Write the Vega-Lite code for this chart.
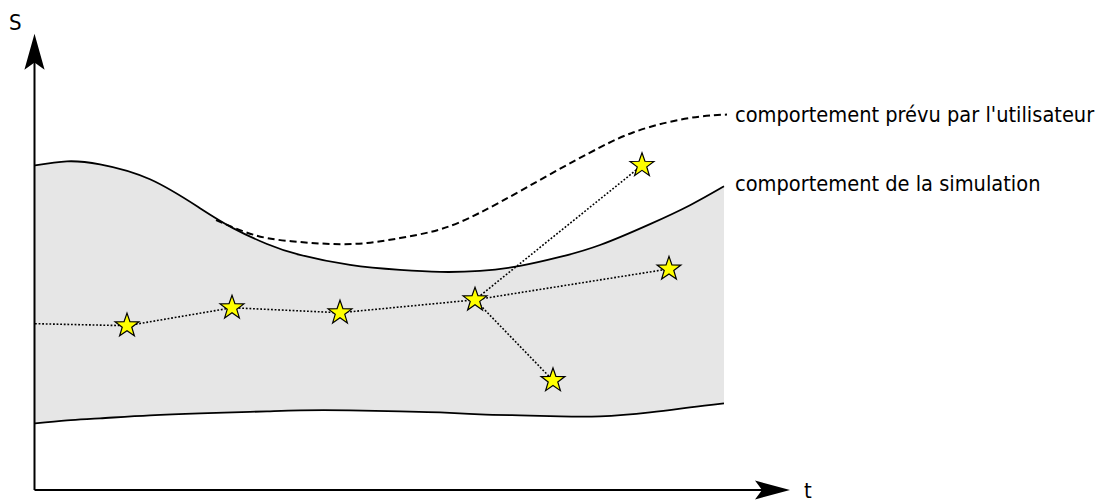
{
  "$schema": "https://vega.github.io/schema/vega-lite/v6.json",
  "width": 1099,
  "height": 502,
  "padding": 0,
  "autosize": {"type": "fit", "contains": "padding"},
  "background": "white",
  "config": {"view": {"stroke": null}},
  "datasets": {
    "band": [
      {"t": 35, "up": 166, "lo": 425},
      {"t": 67, "up": 162, "lo": 422},
      {"t": 100, "up": 165, "lo": 420},
      {"t": 150, "up": 180, "lo": 417},
      {"t": 200, "up": 209, "lo": 415},
      {"t": 233, "up": 229, "lo": 414},
      {"t": 267, "up": 245, "lo": 413},
      {"t": 300, "up": 256, "lo": 412},
      {"t": 350, "up": 266, "lo": 412},
      {"t": 400, "up": 271, "lo": 413},
      {"t": 440, "up": 273, "lo": 414},
      {"t": 480, "up": 272, "lo": 416},
      {"t": 520, "up": 267, "lo": 417},
      {"t": 560, "up": 258, "lo": 418},
      {"t": 600, "up": 246, "lo": 418},
      {"t": 650, "up": 225, "lo": 414},
      {"t": 690, "up": 206, "lo": 409},
      {"t": 724, "up": 187, "lo": 405}
    ],
    "expected": [
      {"t": 216, "s": 221},
      {"t": 240, "s": 231},
      {"t": 267, "s": 239},
      {"t": 300, "s": 243},
      {"t": 333, "s": 245},
      {"t": 367, "s": 244},
      {"t": 400, "s": 239},
      {"t": 430, "s": 233},
      {"t": 460, "s": 223},
      {"t": 500, "s": 203},
      {"t": 550, "s": 175},
      {"t": 600, "s": 148},
      {"t": 633, "s": 133},
      {"t": 667, "s": 123},
      {"t": 700, "s": 117},
      {"t": 727, "s": 115}
    ],
    "paths": [
      {"path": "main", "i": 0, "t": 35, "s": 325},
      {"path": "main", "i": 1, "t": 127, "s": 327},
      {"path": "main", "i": 2, "t": 232, "s": 309},
      {"path": "main", "i": 3, "t": 340, "s": 314},
      {"path": "main", "i": 4, "t": 475, "s": 301},
      {"path": "main", "i": 5, "t": 669, "s": 270},
      {"path": "up", "i": 0, "t": 475, "s": 301},
      {"path": "up", "i": 1, "t": 642, "s": 166},
      {"path": "down", "i": 0, "t": 475, "s": 301},
      {"path": "down", "i": 1, "t": 553, "s": 382}
    ],
    "stars": [
      {"t": 127, "s": 327},
      {"t": 232, "s": 309},
      {"t": 340, "s": 314},
      {"t": 475, "s": 301},
      {"t": 669, "s": 270},
      {"t": 642, "s": 166},
      {"t": 553, "s": 382}
    ],
    "axes": [
      {"name": "S", "t": 34.5, "s": 492, "t2": 34.5, "s2": 45},
      {"name": "t", "t": 34.5, "s": 492, "t2": 765, "s2": 492}
    ],
    "labels": [
      {"text": "comportement prévu par l'utilisateur", "t": 735, "s": 122},
      {"text": "comportement de la simulation", "t": 735, "s": 192}
    ],
    "axislabels": [
      {"text": "S", "t": 9, "s": 30},
      {"text": "t", "t": 804, "s": 500}
    ]
  },
  "layer": [
    {
      "data": {"name": "band"},
      "mark": {"type": "area", "color": "#e6e6e6", "interpolate": "natural"},
      "encoding": {
        "x": {"field": "t", "type": "quantitative", "scale": {"domain": [0, 1099], "nice": false, "zero": false}, "axis": null},
        "y": {"field": "up", "type": "quantitative", "scale": {"domain": [0, 502], "nice": false, "zero": false, "reverse": true}, "axis": null},
        "y2": {"field": "lo"}
      }
    },
    {
      "data": {"name": "band"},
      "mark": {"type": "line", "color": "black", "strokeWidth": 1.8, "interpolate": "natural"},
      "encoding": {
        "x": {"field": "t", "type": "quantitative"},
        "y": {"field": "up", "type": "quantitative"}
      }
    },
    {
      "data": {"name": "band"},
      "mark": {"type": "line", "color": "black", "strokeWidth": 1.8, "interpolate": "natural"},
      "encoding": {
        "x": {"field": "t", "type": "quantitative"},
        "y": {"field": "lo", "type": "quantitative"}
      }
    },
    {
      "data": {"name": "expected"},
      "mark": {"type": "line", "color": "black", "strokeWidth": 2, "strokeDash": [7, 4], "interpolate": "natural"},
      "encoding": {
        "x": {"field": "t", "type": "quantitative"},
        "y": {"field": "s", "type": "quantitative"}
      }
    },
    {
      "data": {"name": "paths"},
      "mark": {"type": "line", "color": "black", "strokeWidth": 1.6, "strokeDash": [1.8, 1.8]},
      "encoding": {
        "x": {"field": "t", "type": "quantitative"},
        "y": {"field": "s", "type": "quantitative"},
        "detail": {"field": "path"},
        "order": {"field": "i"}
      }
    },
    {
      "data": {"name": "axes"},
      "mark": {"type": "rule", "color": "black", "strokeWidth": 2},
      "encoding": {
        "x": {"field": "t", "type": "quantitative"},
        "y": {"field": "s", "type": "quantitative"},
        "x2": {"field": "t2"},
        "y2": {"field": "s2"}
      }
    },
    {
      "data": {"values": [{"t": 34.5, "s": 52}]},
      "mark": {"type": "point", "filled": true, "color": "black", "opacity": 1, "size": 1296, "shape": "M0,-1L0.56,1L0,0.6L-0.56,1Z"},
      "encoding": {
        "x": {"field": "t", "type": "quantitative"},
        "y": {"field": "s", "type": "quantitative"}
      }
    },
    {
      "data": {"values": [{"t": 772.5, "s": 492}]},
      "mark": {"type": "point", "filled": true, "color": "black", "opacity": 1, "size": 1225, "shape": "M1,0L-1,0.54L-0.6,0L-1,-0.54Z"},
      "encoding": {
        "x": {"field": "t", "type": "quantitative"},
        "y": {"field": "s", "type": "quantitative"}
      }
    },
    {
      "data": {"name": "stars"},
      "mark": {"type": "point", "filled": true, "fill": "#ffff00", "stroke": "#000000", "strokeWidth": 1.2, "opacity": 1, "fillOpacity": 1, "size": 630, "shape": "M0,-1L0.235,-0.324L0.951,-0.309L0.38,0.124L0.588,0.809L0,0.4L-0.588,0.809L-0.38,0.124L-0.951,-0.309L-0.235,-0.324Z"},
      "encoding": {
        "x": {"field": "t", "type": "quantitative"},
        "y": {"field": "s", "type": "quantitative"}
      }
    },
    {
      "data": {"name": "labels"},
      "mark": {"type": "text", "align": "left", "baseline": "alphabetic", "font": "DejaVu Sans Condensed, DejaVu Sans", "fontSize": 21.6, "color": "black"},
      "encoding": {
        "x": {"field": "t", "type": "quantitative"},
        "y": {"field": "s", "type": "quantitative"},
        "text": {"field": "text"}
      }
    },
    {
      "data": {"name": "axislabels"},
      "mark": {"type": "text", "align": "left", "baseline": "alphabetic", "font": "DejaVu Sans Condensed, DejaVu Sans", "fontSize": 22, "color": "black"},
      "encoding": {
        "x": {"field": "t", "type": "quantitative"},
        "y": {"field": "s", "type": "quantitative"},
        "text": {"field": "text"}
      }
    }
  ]
}
